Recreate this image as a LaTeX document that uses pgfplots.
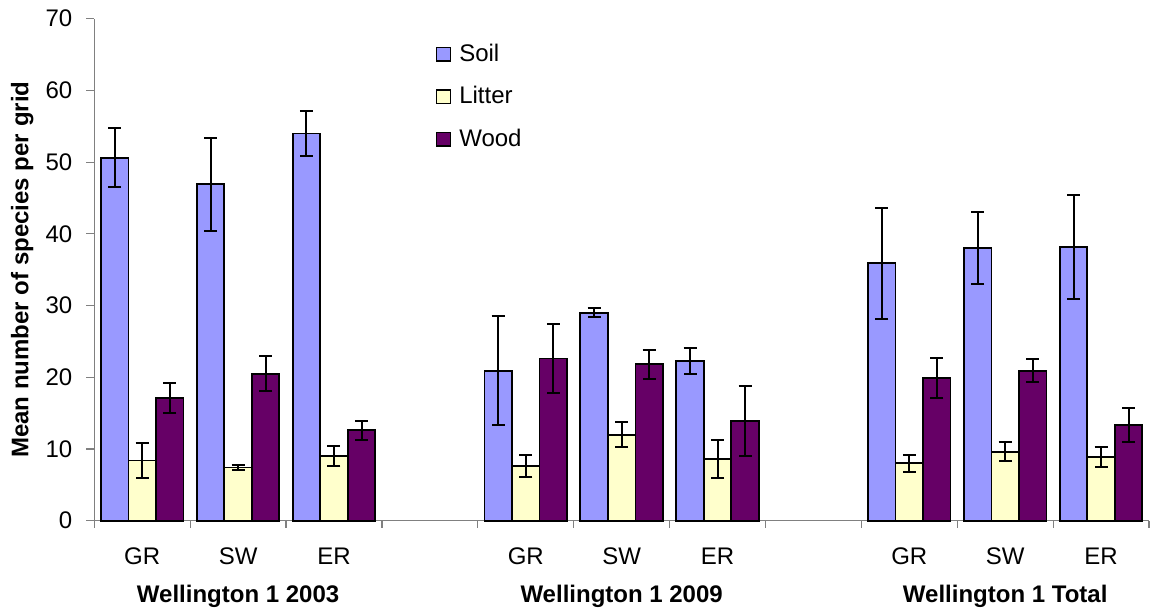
\documentclass[border=0pt]{standalone}
\usepackage{fontspec}
\setmainfont{Liberation Sans}
\usepackage{pgfplots}
\usepackage{pgfplotstable}
\pgfplotsset{compat=1.18}

\definecolor{soilc}{HTML}{9999FF}
\definecolor{litterc}{HTML}{FFFFCC}
\definecolor{woodc}{HTML}{660066}

% x: category position (3 and 7 are the gaps between sites)
\pgfplotstableread{
x  soil soilE litter litterE wood woodE
0  50.6 4.10  8.4   2.40    17.1 2.10
1  46.9 6.50  7.4   0.30    20.5 2.45
2  54.0 3.15  9.0   1.40    12.6 1.35
4  20.9 7.60  7.6   1.50    22.6 4.85
5  29.0 0.65  12.0  1.70    21.8 2.00
6  22.3 1.80  8.6   2.65    13.9 4.85
8  35.9 7.75  8.0   1.20    19.9 2.75
9  38.0 5.00  9.6   1.30    20.9 1.60
10 38.2 7.25  8.9   1.35    13.3 2.40
}\species

\newcommand{\chartfont}{\fontsize{12}{14.4}\selectfont}

\begin{document}
\begin{tikzpicture}
\begin{axis}[
  name=ax,
  scale only axis,
  width=527.4pt, height=251pt,
  xmin=-0.5, xmax=10.5,
  ymin=0, ymax=70,
  ytick={0,10,...,70},
  xtick={0,1,2,4,5,6,8,9,10},
  xticklabels={GR,SW,ER,GR,SW,ER,GR,SW,ER},
  minor xtick={-0.5,0.5,...,10.5},
  axis x line*=bottom,
  axis y line*=left,
  axis line style={black!50, line width=0.6pt},
  tick align=outside,
  tick style={black!50, line width=0.6pt},
  major x tick style={draw=none},
  major tick length=4pt,
  minor tick length=3.5pt,
  /pgf/number format/assume math mode=true,
  ticklabel style={font=\chartfont},
  xticklabel style={yshift=-6pt},
  yticklabel style={xshift=-3.5pt},
  ylabel={\textbf{Mean number of species per grid}},
  every axis y label/.style={at={([xshift=-36pt]rel axis cs:0,0.5)},
    rotate=90, anchor=center, font=\chartfont},
  ybar=0pt,
  bar width=0.287,
  every axis plot/.append style={draw=black, line width=0.9pt},
  error bars/y dir=both,
  error bars/y explicit,
  error bars/error bar style={black, line width=1pt},
  error bars/error mark options={black, line width=1pt, mark size=3.25pt, rotate=90},
  legend image code/.code={%
    \draw[#1, draw=black, line width=0.7pt] (0pt,-3.4pt) rectangle (6.8pt,3.4pt);
    \path (8.8pt,0pt);},
  legend cell align=left,
  legend style={draw=none, fill=none, at={(0.318,0.966)}, anchor=north west,
    font=\chartfont, row sep=7pt},
  clip=false,
]
\addplot[fill=soilc] table[x=x, y=soil, y error=soilE] {\species};
\addplot[fill=litterc] table[x=x, y=litter, y error=litterE] {\species};
\addplot[fill=woodc] table[x=x, y=wood, y error=woodE] {\species};
\legend{Soil, Litter, Wood}

\node[font=\chartfont\bfseries] at (axis cs:1,0)  [yshift=-38pt] {Wellington 1 2003};
\node[font=\chartfont\bfseries] at (axis cs:5,0)  [yshift=-38pt] {Wellington 1 2009};
\node[font=\chartfont\bfseries] at (axis cs:9,0)  [yshift=-38pt] {Wellington 1 Total};
\end{axis}
% page margins around the plot area
\pgfresetboundingbox
\path ([xshift=-47.15pt, yshift=-45.15pt]ax.south west)
  rectangle ([xshift=1pt, yshift=9.35pt]ax.north east);
\end{tikzpicture}
\end{document}
